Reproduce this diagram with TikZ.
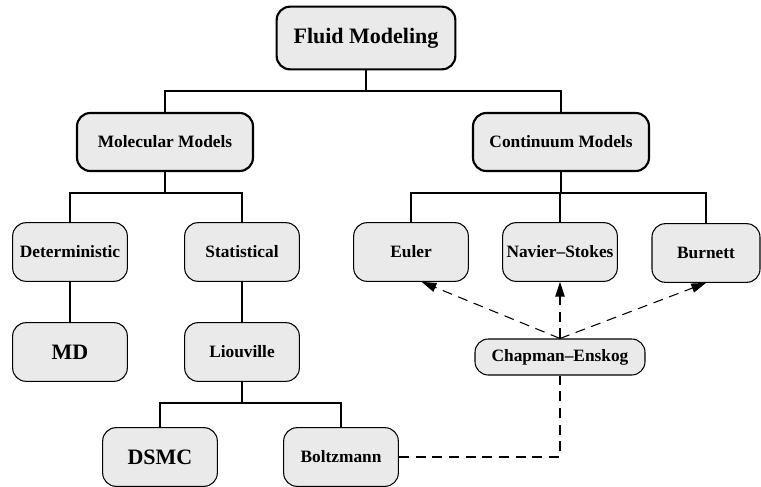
\documentclass[tikz,border=0pt]{standalone}
\usepackage{fontspec}
\setmainfont{Liberation Serif}
\usepackage{xcolor}
\usepackage{tikz}
\usetikzlibrary{arrows.meta,positioning}
\definecolor{boxgray}{HTML}{EAEAEA}

\begin{document}
\begin{tikzpicture}[
  x=0.75pt,y=-0.75pt,
  box/.style={draw,fill=boxgray,rounded corners=10pt,line width=0.8pt,
    minimum width=86pt,minimum height=44pt,inner sep=1pt,
    font=\fontsize{13}{15}\selectfont\bfseries},
  bigbox/.style={box,font=\fontsize{16.5}{19}\selectfont\bfseries},
  topbox/.style={box,line width=1.6pt,minimum width=132pt,minimum height=43.5pt},
  link/.style={line width=0.8pt},
  ce/.style={line width=0.8pt,dash pattern=on 7.5pt off 5pt,
    -{Triangle[length=11pt,width=7pt]}},
  >=Stealth
]
  \useasboundingbox (0,0) rectangle (761,486);
  \node[topbox,font=\fontsize{16.5}{19}\selectfont\bfseries,
        minimum width=134pt,minimum height=47pt] (fluid) at (366,38) {Fluid Modeling};
  \node[topbox] (mol) at (165,142) {Molecular Models};
  \node[topbox] (cont) at (561,142) {Continuum Models};
  \node[box] (det) at (70,252) {Deterministic};
  \node[box] (stat) at (242,252) {Statistical};
  \node[box] (euler) at (411,252) {Euler};
  \node[box] (ns) at (560,252) {Navier--Stokes};
  \node[box,minimum width=81pt] (burn) at (706,253) {Burnett};
  \node[bigbox] (md) at (70,352) {MD};
  \node[box] (liou) at (242,352) {Liouville};
  \node[box,minimum width=127.5pt,minimum height=27pt] (chap) at (560,357) {Chapman--Enskog};
  \node[bigbox] (dsmc) at (160,457) {DSMC};
  \node[box] (boltz) at (341,457) {Boltzmann};

  % tree links
  \foreach \p/\c/\y in {fluid/mol/91,fluid/cont/91,mol/det/193,mol/stat/193,
      cont/euler/193,cont/ns/193,cont/burn/193,det/md/300,stat/liou/300,
      liou/dsmc/403,liou/boltz/403}{
    \draw[link] (\p.south) -- (\p.south |- 0,\y) -| (\c.north);
  }

  % Chapman-Enskog links
  \coordinate (eu) at ([xshift=8pt]euler.south);
  \foreach \t in {eu,ns.south,burn.south}{
    \draw[ce] (chap.north) -- (\t);
  }
  \draw[link,dash pattern=on 7.5pt off 5pt] (boltz.east) -| (chap.south);
\end{tikzpicture}
\end{document}
